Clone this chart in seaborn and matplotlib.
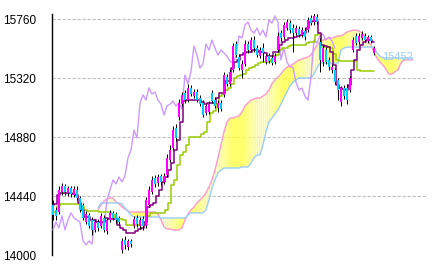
import numpy as np
import matplotlib
matplotlib.use("Agg")
import matplotlib.pyplot as plt
import seaborn as sns

sns.set_style("white")
plt.rcParams['font.family'] = ['Liberation Sans', 'DejaVu Sans']
plt.rcParams['hatch.linewidth'] = 1.0

# ---------------- data ----------------
opens = [14373, 14336, 14321, 14470, 14515, 14463, 14500, 14448, 14485, 14425,
         14373, 14246, 14299, 14261, 14187, 14246, 14217, 14276, 14179, 14261,
         14314, 14306, 14276, 14037, 14112, 14060, 14105, 14217, 14276, 14217,
         14269, 14217, 14373, 14470, 14575, 14537, 14590, 14545, 14597, 14709,
         14798, 14947, 15030, 15126, 15208, 15156, 15246, 15186, 15216, 15171,
         15134, 15059, 15067, 15208, 15156, 15097, 15134, 15194, 15328, 15277,
         15381, 15574, 15477, 15381, 15425, 15574, 15529, 15604, 15544, 15484,
         15544, 15440, 15484, 15470, 15440, 15529, 15656, 15626, 15693, 15730,
         15693, 15656, 15686, 15641, 15671, 15678, 15768, 15738, 15775, 15589,
         15440, 15529, 15455, 15381, 15381, 15306, 15141, 15246, 15246, 15231,
         15529, 15634, 15589, 15619, 15634, 15596, 15626, 15507]
closes = [14299, 14291, 14485, 14515, 14470, 14500, 14455, 14492, 14425, 14336,
          14276, 14306, 14217, 14187, 14246, 14202, 14291, 14187, 14261, 14314,
          14276, 14261, 14246, 14105, 14075, 14105, 14082, 14269, 14231, 14261,
          14217, 14410, 14485, 14560, 14530, 14582, 14545, 14590, 14724, 14783,
          14932, 14873, 15134, 15194, 15156, 15246, 15201, 15216, 15156, 15126,
          15045, 15111, 15126, 15149, 15111, 15134, 15089, 15343, 15277, 15366,
          15559, 15492, 15395, 15425, 15574, 15529, 15604, 15544, 15492, 15529,
          15507, 15484, 15447, 15432, 15484, 15634, 15619, 15716, 15738, 15678,
          15656, 15693, 15641, 15678, 15626, 15753, 15730, 15783, 15738, 15455,
          15544, 15440, 15403, 15403, 15290, 15231, 15246, 15186, 15156, 15321,
          15604, 15581, 15634, 15648, 15604, 15626, 15596, 15544]
highs = [14410, 14358, 14515, 14537, 14530, 14515, 14515, 14515, 14515, 14440,
         14388, 14328, 14314, 14284, 14261, 14269, 14314, 14299, 14276, 14336,
         14328, 14321, 14291, 14127, 14142, 14120, 14120, 14291, 14299, 14284,
         14291, 14433, 14515, 14590, 14597, 14604, 14604, 14612, 14754, 14821,
         14963, 14978, 15164, 15216, 15231, 15277, 15268, 15238, 15238, 15194,
         15156, 15126, 15149, 15231, 15179, 15156, 15156, 15366, 15350, 15388,
         15581, 15596, 15499, 15455, 15604, 15596, 15626, 15634, 15566, 15551,
         15581, 15499, 15507, 15492, 15507, 15663, 15678, 15738, 15760, 15753,
         15723, 15716, 15708, 15701, 15693, 15775, 15790, 15805, 15798, 15619,
         15566, 15551, 15477, 15425, 15395, 15321, 15261, 15268, 15277, 15335,
         15626, 15656, 15656, 15671, 15656, 15641, 15641, 15559]
lows = [14261, 14261, 14306, 14448, 14448, 14440, 14433, 14433, 14410, 14321,
        14261, 14231, 14202, 14150, 14172, 14179, 14202, 14172, 14157, 14246,
        14261, 14239, 14224, 14015, 14045, 14037, 14060, 14202, 14209, 14194,
        14187, 14202, 14358, 14455, 14507, 14515, 14522, 14530, 14582, 14694,
        14783, 14850, 15007, 15111, 15134, 15141, 15186, 15171, 15141, 15111,
        15030, 15045, 15052, 15134, 15097, 15067, 15074, 15179, 15261, 15261,
        15366, 15477, 15381, 15321, 15410, 15507, 15514, 15514, 15477, 15470,
        15440, 15425, 15432, 15418, 15425, 15514, 15596, 15611, 15678, 15656,
        15514, 15641, 15626, 15626, 15604, 15663, 15716, 15716, 15723, 15366,
        15410, 15425, 15381, 15358, 15277, 15156, 15111, 15164, 15126, 15216,
        15514, 15566, 15574, 15604, 15589, 15581, 15581, 15492]

tenkan = [14373, 14381, 14448, 14463, 14463, 14463, 14463, 14455, 14448, 14388,
          14336, 14284, 14284, 14261, 14261, 14246, 14246, 14246, 14276, 14269,
          14269, 14269, 14224, 14202, 14187, 14164, 14164, 14164, 14179, 14194,
          14202, 14246, 14358, 14373, 14388, 14440, 14485, 14545, 14582, 14634,
          14686, 14783, 14858, 14993, 15149, 15156, 15156, 15156, 15156, 15156,
          15141, 15126, 15134, 15134, 15134, 15171, 15208, 15208, 15298, 15298,
          15395, 15440, 15455, 15492, 15507, 15514, 15514, 15529, 15529, 15514,
          15514, 15507, 15484, 15484, 15514, 15514, 15566, 15589, 15604, 15619,
          15619, 15626, 15634, 15641, 15656, 15693, 15738, 15745, 15745, 15656,
          15566, 15559, 15551, 15514, 15418, 15268, 15246, 15238, 15231, 15268,
          15381, 15455, 15529, 15566, 15589, 15604, 15604, 15589]
kijun = [14321, 14321, 14366, 14381, 14381, 14381, 14381, 14381, 14381, 14381,
         14366, 14336, 14328, 14328, 14328, 14328, 14321, 14321, 14321, 14321,
         14306, 14284, 14269, 14269, 14261, 14224, 14224, 14224, 14224, 14224,
         14224, 14224, 14291, 14314, 14314, 14314, 14314, 14314, 14336, 14388,
         14522, 14560, 14671, 14746, 14768, 14821, 14880, 14880, 14880, 14880,
         14903, 14918, 14993, 15059, 15074, 15126, 15186, 15208, 15231, 15246,
         15276, 15321, 15335, 15343, 15350, 15381, 15395, 15403, 15418, 15432,
         15440, 15440, 15440, 15455, 15484, 15492, 15529, 15544, 15544, 15559,
         15566, 15566, 15566, 15566, 15566, 15581, 15589, 15589, 15641, 15648,
         15551, 15551, 15551, 15544, 15499, 15455, 15447, 15447, 15447, 15447,
         15447, 15447, 15381, 15373, 15373, 15373, 15373, 15373]
cloud_start = 15
senkou_a = [14336, 14373, 14403, 14418, 14425, 14425, 14395, 14381, 14358, 14343,
            14328, 14321, 14321, 14321, 14321, 14321, 14321, 14321, 14321, 14321,
            14306, 14261, 14209, 14194, 14194, 14187, 14187, 14187, 14202, 14261,
            14306, 14336, 14358, 14388, 14410, 14433, 14463, 14507, 14560, 14634,
            14724, 14821, 14918, 14993, 15022, 15022, 15030, 15037, 15067, 15111,
            15134, 15156, 15164, 15171, 15171, 15186, 15201, 15231, 15277, 15306,
            15328, 15350, 15381, 15403, 15410, 15425, 15440, 15455, 15462, 15470,
            15477, 15492, 15529, 15566, 15589, 15604, 15611, 15619, 15619, 15626,
            15634, 15634, 15648, 15663, 15671, 15678, 15678, 15671, 15656, 15634,
            15604, 15566, 15514, 15470, 15440, 15418, 15388, 15350, 15350, 15366,
            15381, 15432, 15455, 15455, 15455, 15455]
senkou_b = [14351, 14388, 14388, 14388, 14388, 14388, 14388, 14388, 14381, 14351,
            14328, 14299, 14284, 14284, 14284, 14284, 14284, 14284, 14284, 14284,
            14284, 14276, 14276, 14276, 14276, 14276, 14276, 14276, 14276, 14276,
            14299, 14314, 14314, 14314, 14314, 14314, 14336, 14410, 14500, 14560,
            14612, 14634, 14649, 14649, 14649, 14649, 14649, 14649, 14657, 14657,
            14657, 14686, 14724, 14746, 14746, 14821, 14918, 14993, 15022, 15052,
            15082, 15126, 15171, 15216, 15261, 15290, 15306, 15321, 15321, 15321,
            15321, 15321, 15350, 15395, 15432, 15432, 15432, 15432, 15432, 15432,
            15432, 15529, 15544, 15551, 15551, 15551, 15551, 15551, 15551, 15551,
            15551, 15551, 15551, 15507, 15484, 15470, 15470, 15470, 15470, 15470,
            15470, 15470, 15470, 15470, 15470, 15470]
chikou_lag = 13
y_ticks = [14000, 14440, 14880, 15320, 15760]
last_label = "15452"
last_label_value = 15477

# ---------------- figure ----------------
fig = plt.figure(figsize=(4.33, 2.69), dpi=100)
ax = fig.add_axes([52 / 433, 14 / 269, 375 / 433, 241 / 269])

n = len(closes)
idx = np.arange(n)
o = np.array(opens, float)
c = np.array(closes, float)
h = np.array(highs, float)
l = np.array(lows, float)
cidx = np.arange(cloud_start, cloud_start + len(senkou_a))
sa = np.array(senkou_a, float)
sb = np.array(senkou_b, float)

# cloud
ax.fill_between(cidx, sa, sb, facecolor='none', edgecolor='#ffff66',
                hatch='|' * 8, linewidth=0, zorder=1)
sns.lineplot(x=cidx, y=sa, ax=ax, color='#ff99cc', lw=1.0, zorder=2,
             estimator=None, sort=False)
sns.lineplot(x=cidx, y=sb, ax=ax, color='#99ccff', lw=1.0, zorder=2,
             estimator=None, sort=False)
# chikou span: closes plotted back by the lag
sns.lineplot(x=idx[:n - chikou_lag], y=c[chikou_lag:], ax=ax, color='#cc99ff',
             lw=1.0, zorder=3, estimator=None, sort=False)
# kijun / tenkan
sns.lineplot(x=idx, y=np.array(kijun, float), ax=ax, color='#99cc00', lw=1.1,
             zorder=4, estimator=None, sort=False, drawstyle='steps-mid')
sns.lineplot(x=idx, y=np.array(tenkan, float), ax=ax, color='#800080', lw=1.1,
             zorder=5, estimator=None, sort=False, drawstyle='steps-mid')

# candles
ax.vlines(idx, l, h, color='black', lw=0.7, zorder=6)
up = c >= o
cols = np.where(up, '#ff00ff', '#00ccff')
ax.bar(idx, np.abs(c - o), bottom=np.minimum(o, c), width=0.9, color=cols,
       linewidth=0, zorder=7)

ax.text(115, last_label_value, last_label, color='#99ccff', fontsize=8,
        ha='center', va='center', zorder=8)

# axes styling
ax.set_xlim(-0.33, 124.7)
ax.set_ylim(14000, 15798)
ax.set_yticks(y_ticks)
ax.set_yticklabels([str(t) for t in y_ticks], fontsize=8.5)
ax.set_xticks([])
ax.set_xlabel('')
ax.set_ylabel('')
for s in ['top', 'right', 'bottom']:
    ax.spines[s].set_visible(False)
ax.spines['left'].set_color('black')
ax.spines['left'].set_linewidth(1.0)
ax.tick_params(axis='y', length=2.5, width=0.8, pad=9, colors='black', direction='out')
ax.yaxis.grid(True, color='#c0c0c0', linestyle=(0, (3, 1.5)), linewidth=0.8)
ax.set_axisbelow(True)
ax.set_facecolor('white')
fig.patch.set_facecolor('white')

fig.savefig('out.png', dpi=100)
